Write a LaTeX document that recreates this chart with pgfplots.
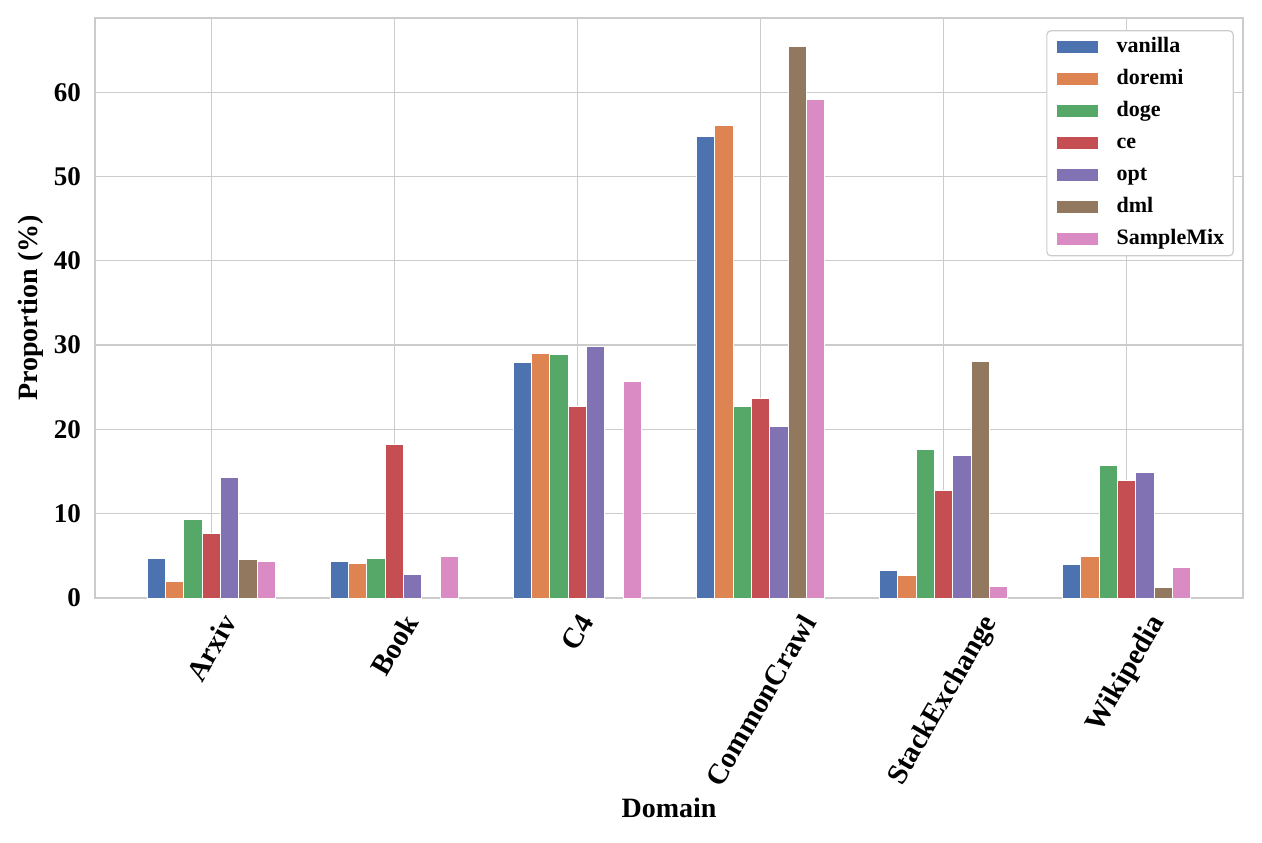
\documentclass[border=0pt]{standalone}
\usepackage{fontspec}
\setmainfont{Liberation Serif}
\usepackage{pgfplots}
\pgfplotsset{compat=1.18}
\definecolor{cvan}{HTML}{4C72B0}
\definecolor{cdor}{HTML}{DD8452}
\definecolor{cdog}{HTML}{55A868}
\definecolor{cce}{HTML}{C44E52}
\definecolor{copt}{HTML}{8172B3}
\definecolor{cdml}{HTML}{937860}
\definecolor{csm}{HTML}{DA8BC3}
\definecolor{gridc}{HTML}{CCCCCC}
\begin{document}
\begin{tikzpicture}
\useasboundingbox (0,0) rectangle (631pt,421pt);
\begin{axis}[
  at={(47.5pt,122pt)}, anchor=south west,
  width=574pt, height=290pt, scale only axis,
  xmin=-0.635, xmax=5.635, ymin=0, ymax=68.8,
  ybar, bar width=0.1,
  xtick={0,1,2,3,4,5},
  xticklabels={\rotatebox{60}{Arxiv},\rotatebox{60}{Book},\rotatebox{60}{C4},\rotatebox{60}{CommonCrawl},\rotatebox{60}{StackExchange},\rotatebox{60}{Wikipedia}},
  ytick={0,10,20,30,40,50,60},
  major tick length=0pt,
  grid=major,
  major grid style={draw=gridc, line width=0.65pt},
  axis line style={draw=gridc, line width=0.65pt},
  /pgf/number format/assume math mode=true,
  xticklabel style={anchor=north, yshift=-3.5pt, font=\fontsize{14.5}{16}\selectfont\bfseries},
  yticklabel style={xshift=-3.5pt, font=\fontsize{13.5}{16}\selectfont\bfseries},
  ylabel={Proportion (\%)},
  xlabel={Domain},
  every axis y label/.style={at={(axis description cs:-0.0557,0.5)}, rotate=90, anchor=center, font=\fontsize{14}{16}\selectfont\bfseries},
  every axis x label/.style={at={(axis description cs:0.5,-0.362)}, anchor=center, font=\fontsize{14}{16}\selectfont\bfseries},
  legend style={at={(0.992,0.979)}, anchor=north east, draw=gridc, line width=0.6pt, rounded corners=2pt,
    inner xsep=4.5pt, inner ysep=3pt, row sep=5.5pt, font=\fontsize{11}{13}\selectfont\bfseries,
    nodes={inner sep=0pt, text height=8pt, text depth=2.5pt},
    /tikz/column 1/.style={column sep=9pt}},
  legend image code/.code={\draw[#1, sharp corners, line width=0.4pt] (0pt,-3.3pt) rectangle (21pt,3.3pt);},
  legend cell align=left,
  every axis plot/.append style={draw=white, line width=0.5pt},
]
\addplot[fill=cvan, bar shift=-0.3] coordinates {(0,4.65) (1,4.3) (2,27.95) (3,54.8) (4,3.3) (5,4.0)};
\addplot[fill=cdor, bar shift=-0.2] coordinates {(0,2.0) (1,4.1) (2,29.05) (3,56.1) (4,2.7) (5,4.9)};
\addplot[fill=cdog, bar shift=-0.1] coordinates {(0,9.3) (1,4.65) (2,28.85) (3,22.75) (4,17.6) (5,15.7)};
\addplot[fill=cce, bar shift=0] coordinates {(0,7.65) (1,18.2) (2,22.7) (3,23.7) (4,12.75) (5,13.95)};
\addplot[fill=copt, bar shift=0.1] coordinates {(0,14.3) (1,2.8) (2,29.8) (3,20.3) (4,16.85) (5,14.9)};
\addplot[fill=cdml, bar shift=0.2] coordinates {(0,4.55) (3,65.45) (4,28.0) (5,1.25)};
\addplot[fill=csm, bar shift=0.3] coordinates {(0,4.3) (1,4.9) (2,25.65) (3,59.15) (4,1.35) (5,3.65)};
\legend{vanilla,doremi,doge,ce,opt,dml,SampleMix}
\end{axis}
\end{tikzpicture}
\end{document}
